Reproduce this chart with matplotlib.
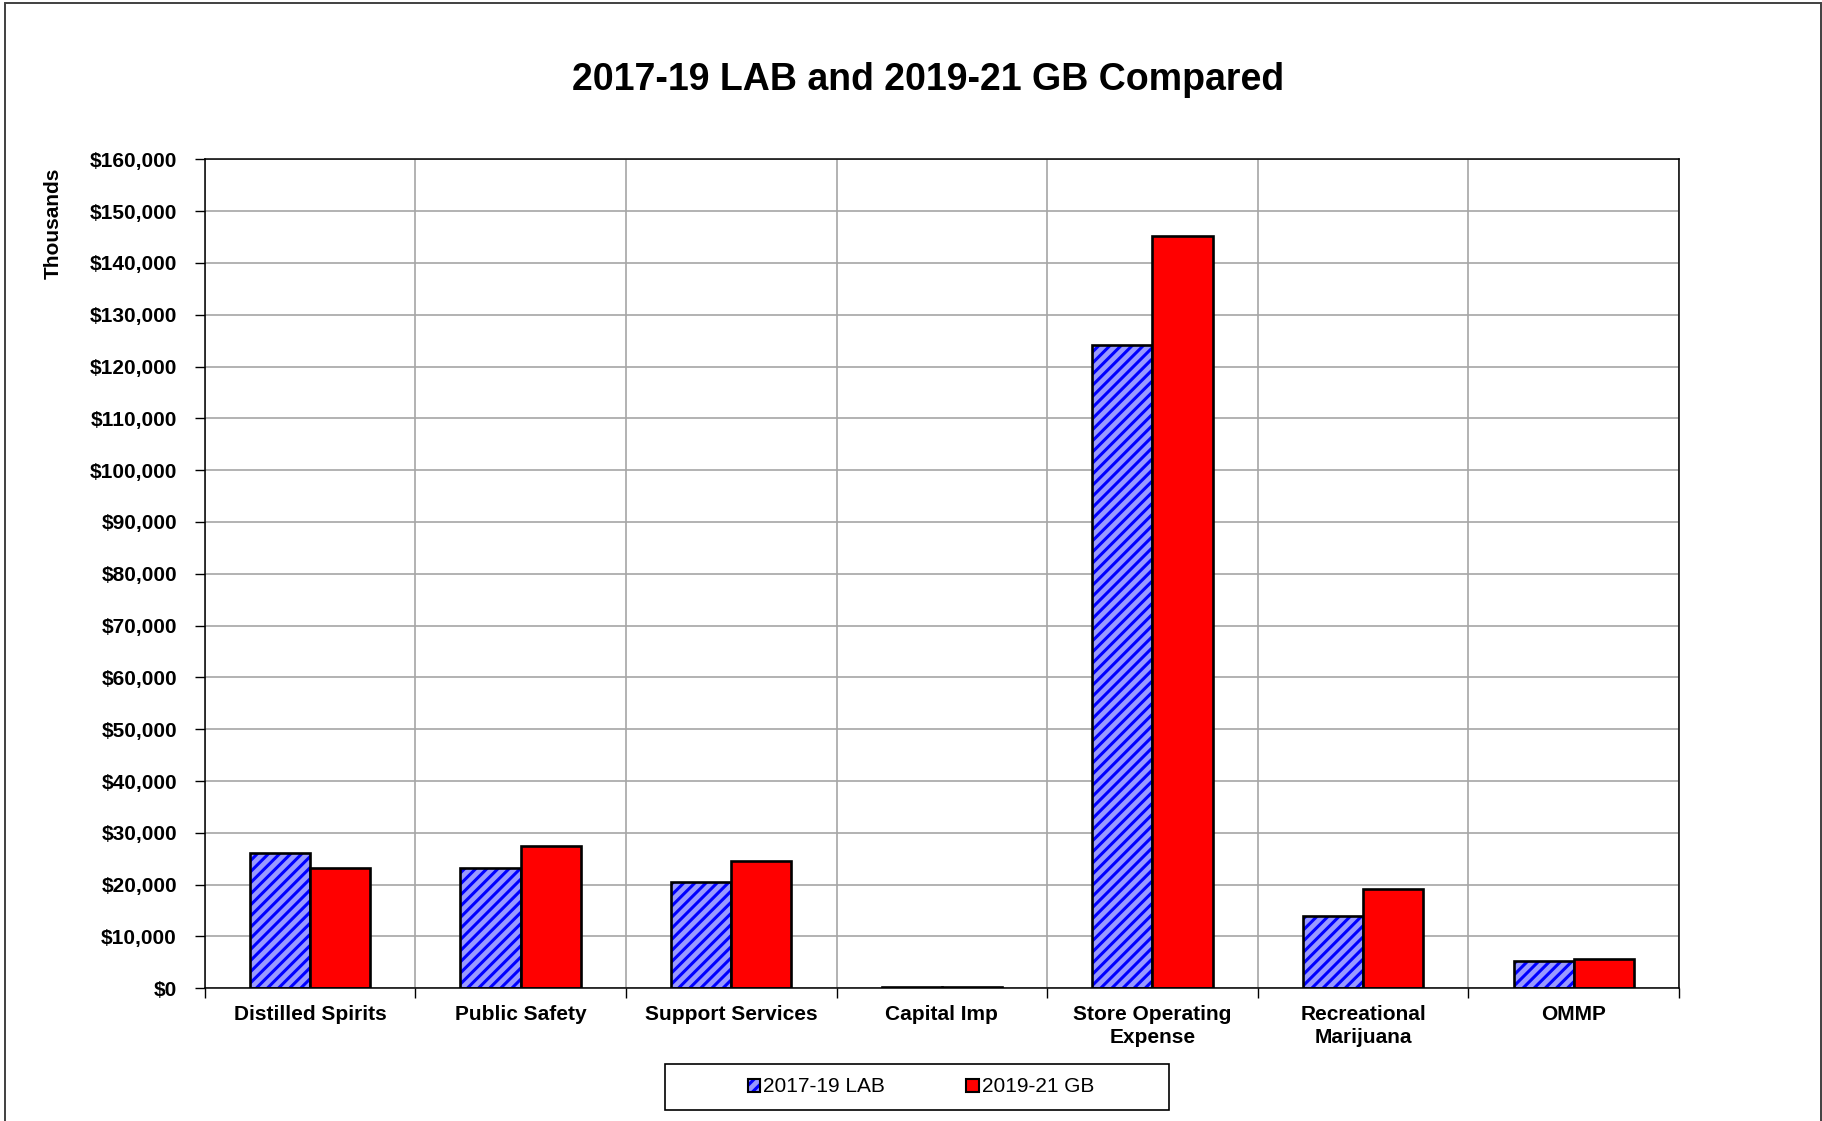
import numpy as np
import matplotlib
matplotlib.use("Agg")
import matplotlib.pyplot as plt
from matplotlib.patches import Patch, Rectangle
from matplotlib.ticker import FuncFormatter, FixedLocator
from matplotlib.legend_handler import HandlerTuple

plt.rcParams['font.family'] = ['Liberation Sans', 'DejaVu Sans']
plt.rcParams['hatch.linewidth'] = 2.2

# Budget categories and amounts (thousands of dollars)
categories = ["Distilled Spirits", "Public Safety", "Support Services", "Capital Imp",
              "Store Operating\nExpense", "Recreational\nMarijuana", "OMMP"]
series_names = ["2017-19 LAB", "2019-21 GB"]
lab_2017_19 = [26100, 23200, 20600, 300, 124200, 14000, 5300]
gb_2019_21 = [23300, 27400, 24600, 250, 145200, 19100, 5700]
y_ticks = list(range(0, 160001, 10000))

W, H = 1822, 1121
fig = plt.figure(figsize=(W / 100, H / 100), dpi=100)
ax = fig.add_axes([204.7 / W, 1 - 988.3 / H, (1679 - 204.7) / W, (988.3 - 159.3) / H])

x = np.arange(len(categories))
bw = 1 / 3.5

# hatched light-blue bars, then black outlines on top
ax.bar(x - bw / 2, lab_2017_19, bw, color='#9999FF', edgecolor='#0000FF',
       hatch='///', linewidth=0, zorder=3)
ax.bar(x - bw / 2, lab_2017_19, bw, fill=False, edgecolor='black',
       linewidth=1.9, zorder=4)
ax.bar(x + bw / 2, gb_2019_21, bw, color='#FF0000', edgecolor='black',
       linewidth=1.9, zorder=4)

ax.set_xlim(-0.5, len(categories) - 0.5)
ax.set_ylim(0, 160000)
ax.set_yticks(y_ticks)
ax.yaxis.set_major_formatter(FuncFormatter(lambda v, p: f"${v:,.0f}"))

ax.set_xticks(x)
ax.set_xticklabels(categories, fontsize=15, fontweight='bold', linespacing=1.3)
ax.xaxis.set_minor_locator(FixedLocator(np.arange(-0.5, len(categories), 1.0)))
ax.tick_params(axis='x', which='major', length=0, pad=12)
ax.tick_params(axis='x', which='minor', length=7, width=1, direction='out', color='black')
ax.tick_params(axis='y', length=7, width=1, direction='out', pad=13, labelsize=15)
for lbl in ax.get_yticklabels():
    lbl.set_fontweight('bold')

ax.grid(axis='y', which='major', color='#a6a6a6', linewidth=1.2, zorder=0)
ax.grid(axis='x', which='minor', color='#a6a6a6', linewidth=1.2, zorder=0)
ax.grid(axis='x', which='major', visible=False)
ax.set_axisbelow(True)
for side, sp in ax.spines.items():
    sp.set_color('black')
    sp.set_linewidth(1.1)
    sp.set_zorder(5)

fig.text(53 / W, 1 - 223 / H, "Thousands", rotation=90, fontsize=15,
         fontweight='bold', ha='center', va='center')
fig.text(928 / W, 1 - 80 / H, "2017-19 LAB and 2019-21 GB Compared",
         fontsize=27, fontweight='bold', ha='center', va='center')

# legend
h_lab = (Patch(facecolor='#9999FF', edgecolor='#0000FF', hatch='///', linewidth=0),
         Patch(fill=False, edgecolor='black', linewidth=1.5))
h_gb = Patch(facecolor='#FF0000', edgecolor='black', linewidth=1.5)
fig.legend([h_lab, h_gb], series_names, loc='center',
           bbox_to_anchor=(921 / W, 1 - 1087 / H), ncol=2, frameon=False,
           fontsize=15, handlelength=0.6, handleheight=0.6, handletextpad=0.15,
           columnspacing=3.9, handler_map={tuple: HandlerTuple(ndivide=1, pad=0)})
fig.add_artist(Rectangle((665 / W, 1 - 1110 / H), (1169 - 665) / W, (1110 - 1064) / H,
                         transform=fig.transFigure, fill=False, edgecolor='black',
                         linewidth=1.2))

# outer chart border
fig.add_artist(Rectangle((5 / W, -0.01), (1821 - 5) / W, 1.01 - 3 / H,
                         transform=fig.transFigure, fill=False, edgecolor='#404040',
                         linewidth=1.4))

fig.savefig("out.png", dpi=100, facecolor='white')
